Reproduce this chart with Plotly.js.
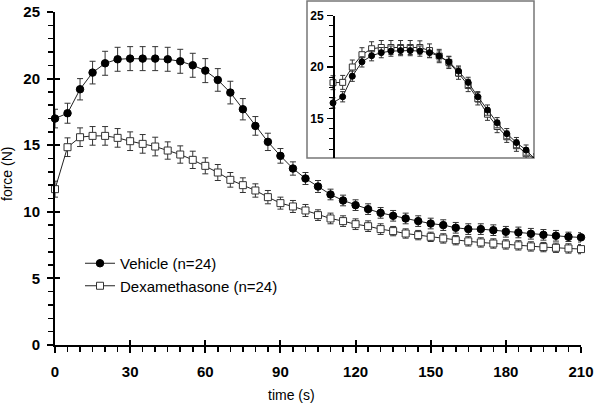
<!DOCTYPE html>
<html><head><meta charset="utf-8">
<script src="https://cdn.plot.ly/plotly-3.0.1.min.js"></script>
<style>html,body{margin:0;padding:0;background:#fff}</style>
</head><body><div id="chart" style="width:600px;height:404px"></div>
<script>
// ---- main panel data ----
const time = [0,5,10,15,20,25,30,35,40,45,50,55,60,65,70,75,80,85,90,95,100,105,110,115,120,125,130,135,140,145,150,155,160,165,170,175,180,185,190,195,200,205,210];
const vehicle = [17.0,17.4,19.2,20.45,21.15,21.45,21.5,21.5,21.5,21.45,21.3,21.0,20.6,19.9,18.95,17.7,16.45,15.25,14.2,13.25,12.5,11.9,11.3,10.85,10.5,10.2,9.92,9.7,9.5,9.3,9.12,9.0,8.8,8.7,8.7,8.62,8.5,8.45,8.35,8.27,8.2,8.12,8.08];
const vehicleErr = [0.7,0.75,0.8,0.85,0.9,0.9,0.9,0.9,0.9,0.9,0.9,0.9,0.9,0.85,0.85,0.8,0.7,0.65,0.55,0.5,0.45,0.45,0.4,0.4,0.4,0.4,0.4,0.4,0.4,0.4,0.4,0.4,0.4,0.4,0.4,0.4,0.4,0.4,0.4,0.4,0.4,0.35,0.35];
const dex = [11.7,14.85,15.6,15.7,15.7,15.55,15.3,15.1,14.9,14.6,14.3,13.9,13.45,12.95,12.4,12.0,11.6,11.1,10.65,10.4,10.1,9.75,9.5,9.3,9.07,8.92,8.7,8.55,8.37,8.25,8.12,8.0,7.87,7.78,7.7,7.62,7.55,7.48,7.4,7.35,7.3,7.25,7.2];
const dexErr = [0.6,0.7,0.7,0.7,0.7,0.7,0.7,0.7,0.7,0.65,0.65,0.65,0.6,0.6,0.55,0.55,0.5,0.5,0.45,0.45,0.45,0.4,0.4,0.4,0.4,0.4,0.4,0.35,0.35,0.35,0.35,0.35,0.35,0.35,0.35,0.35,0.35,0.35,0.35,0.35,0.35,0.35,0.35];
const seriesNames = ["Vehicle (n=24)", "Dexamethasone (n=24)"];
// ---- inset data ----
const insetTime = [0,5,10,15,20,25,30,35,40,45,50,55,60,65,70,75,80,85,90,95,100,105];
const insetVehicle = [16.5,17.1,19.1,20.5,21.1,21.4,21.55,21.6,21.6,21.55,21.4,21.07,20.5,19.6,18.5,17.1,15.8,14.57,13.5,12.63,11.9,10.95];
const insetVehicleErr = [0.5,0.5,0.5,0.5,0.5,0.5,0.5,0.5,0.5,0.5,0.5,0.5,0.5,0.5,0.5,0.5,0.5,0.5,0.5,0.5,0.5,0.5];
const insetDex = [18.47,18.5,20.0,21.2,21.78,21.9,21.9,21.9,21.9,21.9,21.6,21.07,20.45,19.4,18.2,16.9,15.4,14.2,13.2,12.33,11.55,11.0];
const insetDexErr = [0.68,0.68,0.68,0.68,0.68,0.68,0.68,0.68,0.68,0.65,0.65,0.65,0.6,0.6,0.6,0.6,0.6,0.6,0.55,0.55,0.55,0.55];
const xTicks = [0,30,60,90,120,150,180,210];
const yTicks = [0,5,10,15,20,25];
const insetYTicks = [15,20,25];

const FONT = "Liberation Sans, Arial, sans-serif";
const W = 600, H = 404, L = 55, R = 19, T = 12, B = 59;
const pw = W - L - R, ph = H - T - B;
const px = v => (v - L) / pw;            // pixel -> paper x
const py = v => (H - B - v) / ph;        // pixel -> paper y

function series(x, y, err, sym, filled, name, xa, ya, show, size, errW) {
  return {
    x: x, y: y, type: "scatter", mode: "lines+markers", name: name,
    xaxis: xa, yaxis: ya, showlegend: show, legendgroup: name,
    line: {color: "#222", width: 1},
    marker: {symbol: sym, size: size, color: filled ? "#000" : "#fff",
             line: {color: filled ? "#000" : "#333", width: 1}},
    error_y: {type: "data", array: err, visible: true, color: "#333", thickness: 1, width: errW},
    cliponaxis: xa === "x" ? false : true,
    hoverinfo: "x+y"
  };
}

const data = [
  series(time, dex, dexErr, "square", false, seriesNames[1], "x", "y", true, 7, 3),
  series(time, vehicle, vehicleErr, "circle", true, seriesNames[0], "x", "y", true, 7.5, 3),
  series(insetTime, insetDex, insetDexErr, "square", false, seriesNames[1], "x2", "y2", false, 6, 2.5),
  series(insetTime, insetVehicle, insetVehicleErr, "circle", true, seriesNames[0], "x2", "y2", false, 6, 2.5),
  // carrier for the overlay axes that draw the inner half of the crossing major ticks
  {x: [0], y: [0], xaxis: "x3", yaxis: "y3", type: "scatter", mode: "markers",
   marker: {opacity: 0, size: 1}, showlegend: false, hoverinfo: "skip"}
];
data[0].legendrank = 2; data[1].legendrank = 1;

const tickFont = {family: FONT, size: 15, color: "#000", weight: "bold"};
const layout = {
  width: W, height: H,
  margin: {l: L, r: R, t: T, b: B, pad: 0},
  paper_bgcolor: "#fff", plot_bgcolor: "rgba(0,0,0,0)",
  showlegend: true,
  legend: {x: px(80), y: py(247), xanchor: "left", yanchor: "top",
           font: {family: FONT, size: 15, color: "#000"}, bgcolor: "rgba(0,0,0,0)",
           traceorder: "normal", tracegroupgap: 0, itemwidth: 30},
  xaxis: {domain: [0, 1], range: [0, 210], tickvals: xTicks, ticks: "outside", ticklen: 6, tickwidth: 2,
          tickcolor: "#000", showline: true, linewidth: 2, linecolor: "#000", showgrid: false, zeroline: false,
          tickfont: tickFont, ticklabelstandoff: 6,
          minor: {dtick: 5, tick0: 0, ticks: "outside", ticklen: 5, tickwidth: 1.5, tickcolor: "#000", showgrid: false},
          anchor: "y"},
  yaxis: {domain: [0, 1], range: [0, 25], tickvals: yTicks, ticks: "outside", ticklen: 6, tickwidth: 2,
          tickcolor: "#000", showline: true, linewidth: 2, linecolor: "#000", showgrid: false, zeroline: false,
          tickfont: tickFont, ticklabelstandoff: 4,
          minor: {dtick: 1, tick0: 0, ticks: "outside", ticklen: 5, tickwidth: 1.5, tickcolor: "#000", showgrid: false},
          anchor: "x"},
  xaxis3: {overlaying: "x", anchor: "y3", range: [0, 210], tickvals: xTicks, ticks: "inside", ticklen: 5, tickwidth: 2,
           tickcolor: "#000", showticklabels: false, showline: false, showgrid: false, zeroline: false},
  yaxis3: {overlaying: "y", anchor: "x3", range: [0, 25], tickvals: yTicks, ticks: "inside", ticklen: 5, tickwidth: 2,
           tickcolor: "#000", showticklabels: false, showline: false, showgrid: false, zeroline: false},
  xaxis2: {domain: [px(323), px(534)], range: [-5.18, 104.1], visible: false, anchor: "y2", fixedrange: true},
  yaxis2: {domain: [py(158), py(15.7)], range: [11.13, 25], anchor: "free", position: px(333),
           tickvals: insetYTicks, ticks: "outside", ticklen: 6, tickwidth: 1.5, tickcolor: "#000",
           showline: true, linewidth: 1.5, linecolor: "#000", showgrid: false, zeroline: false,
           tickfont: {family: FONT, size: 12, color: "#000", weight: "bold"}, ticklabelstandoff: 1,
           minor: {dtick: 1, tick0: 0, ticks: "outside", ticklen: 4, tickwidth: 1, tickcolor: "#000", showgrid: false}},
  shapes: [
    {type: "rect", xref: "paper", yref: "paper", x0: px(307), x1: px(534), y0: py(158), y1: py(1),
     line: {color: "#777", width: 1.5}, fillcolor: "#fff", layer: "below"}
  ],
  annotations: [
    {text: "time (s)", xref: "paper", yref: "paper", x: px(291), y: py(395), xanchor: "center", yanchor: "middle",
     showarrow: false, font: {family: FONT, size: 14, color: "#000"}},
    {text: "force (N)", xref: "paper", yref: "paper", x: px(7), y: py(174), xanchor: "center", yanchor: "middle",
     textangle: -90, showarrow: false, font: {family: FONT, size: 14, color: "#000"}}
  ]
};
Plotly.newPlot("chart", data, layout, {displayModeBar: false, staticPlot: true});
</script></body></html>
